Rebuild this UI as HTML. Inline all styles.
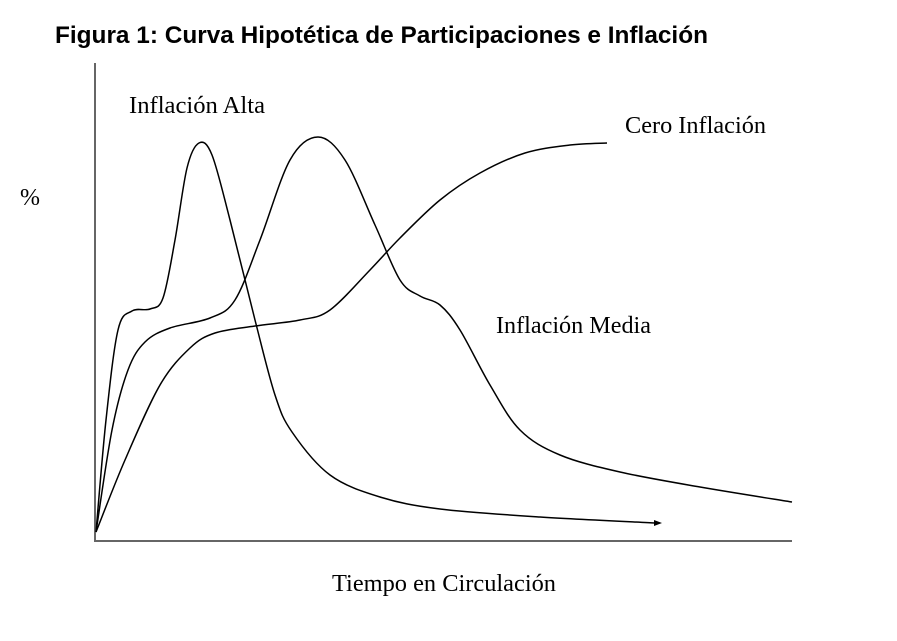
<!DOCTYPE html>
<html><head><meta charset="utf-8"><style>
html,body{margin:0;padding:0;background:#fff;width:897px;height:641px;overflow:hidden}
</style></head><body>
<svg id="s" width="897" height="641" xmlns="http://www.w3.org/2000/svg">
<text x="55" y="43" font-family="Liberation Sans, sans-serif" font-weight="bold" font-size="24" textLength="653" lengthAdjust="spacingAndGlyphs">Figura 1: Curva Hipotética de Participaciones e Inflación</text>
<line x1="95" y1="63" x2="95" y2="542" stroke="#666" stroke-width="2"/>
<line x1="94" y1="541" x2="792" y2="541" stroke="#666" stroke-width="2"/>
<g font-family="Liberation Serif, serif" font-size="24" fill="#000">
<text x="129" y="113" textLength="136" lengthAdjust="spacingAndGlyphs">Inflación Alta</text>
<text x="625" y="133" textLength="141" lengthAdjust="spacingAndGlyphs">Cero Inflación</text>
<text x="496" y="333" textLength="155" lengthAdjust="spacingAndGlyphs">Inflación Media</text>
<text x="20" y="205">%</text>
<text x="332" y="591" textLength="224" lengthAdjust="spacingAndGlyphs">Tiempo en Circulación</text>
</g>
<path d="M662,523 l-8,-3 l0,6 z" fill="#000"/>
</svg>
<script>
function cr(p){var d="M"+p[0][0]+","+p[0][1];for(var i=0;i<p.length-1;i++){var p0=p[i-1]||p[i],p1=p[i],p2=p[i+1],p3=p[i+2]||p2;
d+=" C"+(p1[0]+(p2[0]-p0[0])/6)+","+(p1[1]+(p2[1]-p0[1])/6)+" "+(p2[0]-(p3[0]-p1[0])/6)+","+(p2[1]-(p3[1]-p1[1])/6)+" "+p2[0]+","+p2[1];}return d;}
var curves=[
[[96,532],[106,420],[118,330],[132,311],[150,309],[163,298],[175,240],[187,168],[199,143],[212,155],[230,220],[255,320],[275,395],[292,432],[330,475],[380,497],[440,509],[540,517],[655,523]],
[[96,532],[112,430],[128,370],[145,342],[170,328],[210,318],[235,300],[260,240],[290,160],[318,137],[345,160],[375,225],[400,280],[420,296],[440,305],[460,330],[490,385],[520,430],[560,455],[620,472],[700,487],[792,502]],
[[96,532],[125,460],[160,385],[190,348],[215,333],[255,326],[300,320],[330,310],[370,270],[400,238],[440,200],[480,173],[525,153],[570,145],[607,143]]
];
var s=document.getElementById('s');
curves.forEach(function(c){var e=document.createElementNS('http://www.w3.org/2000/svg','path');e.setAttribute('d',cr(c));e.setAttribute('fill','none');e.setAttribute('stroke','#000');e.setAttribute('stroke-width','1.5');s.appendChild(e);});
</script>
</body></html>
